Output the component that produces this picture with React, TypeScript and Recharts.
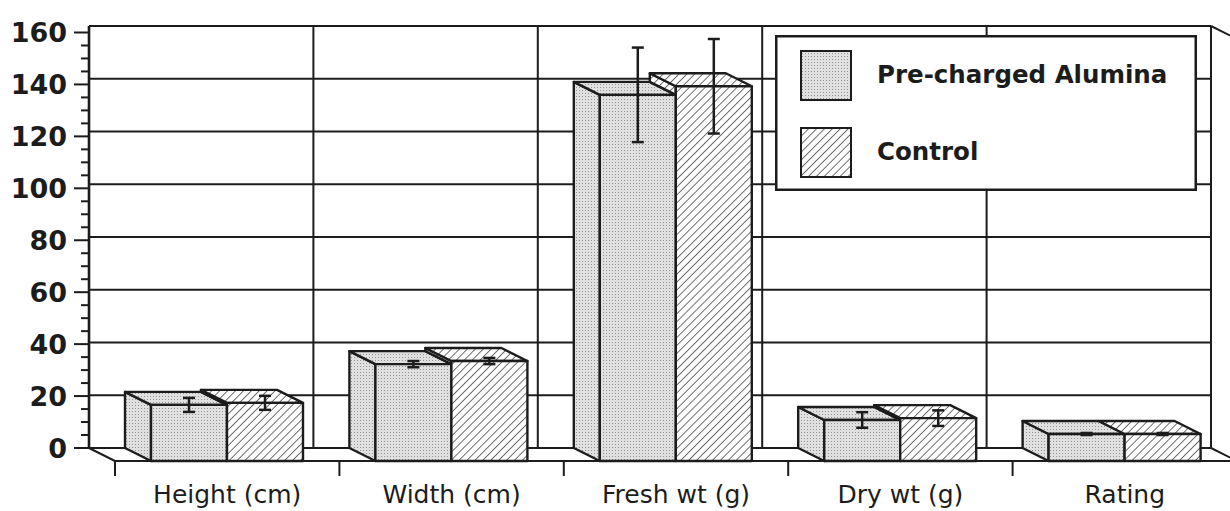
import React from 'react';
import { BarChart, Bar, XAxis, YAxis, CartesianGrid, ErrorBar, Legend } from 'recharts';

// ---- data ----
const categories = ['Height (cm)', 'Width (cm)', 'Fresh wt (g)', 'Dry wt (g)', 'Rating'];
const seriesNames = ['Pre-charged Alumina', 'Control'];
const alumina = [21.6, 37.3, 141, 15.8, 10.4];
const aluminaErr = [2.7, 1.2, 18.2, 3, 0.4];
const control = [22.4, 38.5, 144.3, 16.5, 10.4];
const controlErr = [2.7, 1.2, 18.2, 3, 0.4];
const yTicks = [0, 5, 10, 15, 20, 25, 30, 35, 40, 45, 50, 55, 60, 65, 70, 75, 80, 85, 90, 95, 100, 105, 110, 115, 120, 125, 130, 135, 140, 145, 150, 155, 160];
const yLabelTicks = [0, 20, 40, 60, 80, 100, 120, 140, 160];
const yDomain = [0, 160];

const data = categories.map((name, i) => ({
  name,
  alumina: alumina[i],
  aluminaErr: aluminaErr[i],
  control: control[i],
  controlErr: controlErr[i],
}));

// ---- style ----
const INK = '#1c1c1c';
const DX = 26; // depth offset (back wall is up-left of the front plane)
const DY = 13;
const FONT = '"DejaVu Sans", "Liberation Sans", Arial, sans-serif';

const AluminaBox = (props: any) => {
  const { x, y, width: w, height: h } = props;
  if (x == null || y == null) return null;
  return (
    <g stroke={INK} strokeWidth={2.4} strokeLinejoin="round">
      <polygon points={`${x - DX},${y - DY} ${x},${y} ${x},${y + h} ${x - DX},${y + h - DY}`} fill="url(#stipple)" />
      <polygon points={`${x - DX},${y - DY} ${x + w - DX},${y - DY} ${x + w},${y} ${x},${y}`} fill="url(#stipple)" />
      <rect x={x} y={y} width={w} height={h} fill="url(#stipple)" />
    </g>
  );
};

const ControlBox = (props: any) => {
  const { x, y, width: w, height: h, payload } = props;
  if (x == null || y == null) return null;
  const base = y + h;
  const ratio = payload && payload.control ? payload.alumina / payload.control : 1;
  const yP = base - h * ratio; // top of the neighbouring alumina front face
  return (
    <g stroke={INK} strokeWidth={2.4} strokeLinejoin="round">
      {yP > y + 0.5 && (
        <polygon points={`${x - DX},${y - DY} ${x},${y} ${x},${yP} ${x - DX},${yP - DY}`} fill="url(#hatch)" />
      )}
      <polygon points={`${x - DX},${y - DY} ${x + w - DX},${y - DY} ${x + w},${y} ${x},${y}`} fill="url(#hatch)" />
      <rect x={x} y={y} width={w} height={h} fill="url(#hatch)" />
    </g>
  );
};

// grid coordinates taken from the chart's own scales
const verticalGen = (args: any) => {
  const { xAxis, offset } = args || {};
  const sc = xAxis && xAxis.scale;
  if (sc && typeof sc === 'function' && typeof sc.bandwidth === 'function') {
    const pts = categories.map((c) => sc(c));
    pts.push(sc(categories[categories.length - 1]) + sc.bandwidth());
    return pts;
  }
  const n = categories.length;
  return Array.from({ length: n + 1 }, (_, i) => offset.left + (i * offset.width) / n);
};

const horizontalGen = (args: any) => {
  const { yAxis, offset } = args || {};
  const sc = yAxis && yAxis.scale;
  if (sc && typeof sc === 'function') {
    return yLabelTicks.map((v) => sc(v));
  }
  return yLabelTicks.map((v) => offset.top + offset.height * (1 - (v - yDomain[0]) / (yDomain[1] - yDomain[0])));
};

const HLine = (p: any) => {
  const { x1, x2, y1, index } = p;
  const bottom = index === 0;
  const top = index === yLabelTicks.length - 1;
  return (
    <g key={`h-${index}`}>
      <line x1={x1 - DX} y1={y1 - DY} x2={x2 - DX} y2={y1 - DY} stroke={INK} strokeWidth={bottom || top ? 2.2 : 1.8} />
      {bottom && (
        <g stroke={INK} strokeWidth={2}>
          <line x1={x1 - DX} y1={y1 - DY} x2={x1} y2={y1} />
          <line x1={x2 - DX} y1={y1 - DY} x2={x2} y2={y1} />
        </g>
      )}
      {top && <line x1={x2 - DX} y1={y1 - DY} x2={x2} y2={y1} stroke={INK} strokeWidth={2} />}
    </g>
  );
};

const VLine = (p: any) => {
  const { x1, y1, y2, index } = p;
  return (
    <line key={`v-${index}`} x1={x1 - DX} y1={y1 - DY} x2={x1 - DX} y2={y2 - DY} stroke={INK} strokeWidth={index === 0 ? 2.6 : 2} />
  );
};

const YTick = (p: any) => {
  const { x, y, payload } = p;
  const v = payload.value;
  const major = yLabelTicks.includes(v);
  const bx = x - DX;
  const by = y - DY;
  return (
    <g>
      <line x1={bx - (major ? 15 : 8)} y1={by} x2={bx} y2={by} stroke={INK} strokeWidth={2} />
      {major && (
        <text x={bx - 22} y={by} textAnchor="end" dominantBaseline="central" fontFamily={FONT} fontWeight="bold" fontSize={27} fill={INK}>
          {v}
        </text>
      )}
    </g>
  );
};

const XTick = (p: any) => {
  const { x, y, payload } = p;
  const half = payload && typeof payload.offset === 'number' && payload.offset > 0 ? payload.offset : 112.2;
  return (
    <g>
      <line x1={x - half} y1={y} x2={x - half} y2={y + 15} stroke={INK} strokeWidth={2} />
      <text x={x} y={y + 42} textAnchor="middle" fontFamily={FONT} fontSize={25} fill={INK}>
        {payload.value}
      </text>
    </g>
  );
};

const LegendBox = (props: any) => {
  const raw = props.payload || [];
  const items = seriesNames.map((n) => raw.find((it: any) => it.value === n)).filter(Boolean);
  return (
    <svg width={422} height={156} style={{ display: 'block' }}>
      <rect x={1.25} y={1.25} width={419.5} height={153.5} fill="#fff" stroke={INK} strokeWidth={2.5} />
      {items.map((it: any, i: number) => (
        <g key={i}>
          <rect x={26} y={16 + i * 77} width={50} height={49} fill={it.color} stroke={INK} strokeWidth={2} />
          <text x={102} y={48 + i * 77} fontFamily={FONT} fontWeight="bold" fontSize={24.5} fill={INK}>
            {it.value}
          </text>
        </g>
      ))}
    </svg>
  );
};

export default function App() {
  return (
    <div style={{ position: 'absolute', left: 0, top: 0, width: 1230, height: 511, overflow: 'hidden', background: '#fff' }}>
      <svg width={0} height={0} style={{ position: 'absolute' }}>
        <defs>
          <pattern id="stipple" patternUnits="userSpaceOnUse" width={3} height={3}>
            <rect width={3} height={3} fill="#e0e0e0" />
            <rect x={0} y={0} width={1} height={1} fill="#959595" />
          </pattern>
          <pattern id="hatch" patternUnits="userSpaceOnUse" width={5.6} height={5.6} patternTransform="rotate(45)">
            <rect width={5.6} height={5.6} fill="#fff" />
            <line x1={0} y1={0} x2={0} y2={5.6} stroke="#333" strokeWidth={1.4} />
          </pattern>
        </defs>
      </svg>
      <BarChart
        width={1241}
        height={511}
        data={data}
        margin={{ top: 39, right: 4, left: 15, bottom: 20 }}
        barSize={76}
        barGap={0}
      >
        <CartesianGrid
          horizontal={HLine}
          vertical={VLine}
          horizontalCoordinatesGenerator={horizontalGen}
          verticalCoordinatesGenerator={verticalGen}
        />
        <XAxis
          dataKey="name"
          interval={0}
          tickSize={0}
          tickMargin={0}
          height={30}
          tickLine={false}
          axisLine={{ stroke: INK, strokeWidth: 2.2 }}
          tick={XTick}
        />
        <YAxis
          domain={yDomain}
          ticks={yTicks}
          interval={0}
          tickSize={0}
          tickMargin={0}
          width={100}
          axisLine={false}
          tickLine={false}
          tick={YTick}
        />
        <Legend
          verticalAlign="middle"
          align="center"
          layout="horizontal"
          wrapperStyle={{ left: 775, top: 35, width: 422, height: 156 }}
          content={LegendBox}
        />
        <Bar dataKey="alumina" name={seriesNames[0]} fill="url(#stipple)" shape={AluminaBox} isAnimationActive={false}>
          <ErrorBar dataKey="aluminaErr" width={6} stroke={INK} strokeWidth={2.5} />
        </Bar>
        <Bar dataKey="control" name={seriesNames[1]} fill="url(#hatch)" shape={ControlBox} isAnimationActive={false}>
          <ErrorBar dataKey="controlErr" width={6} stroke={INK} strokeWidth={2.5} />
        </Bar>
      </BarChart>
    </div>
  );
}
